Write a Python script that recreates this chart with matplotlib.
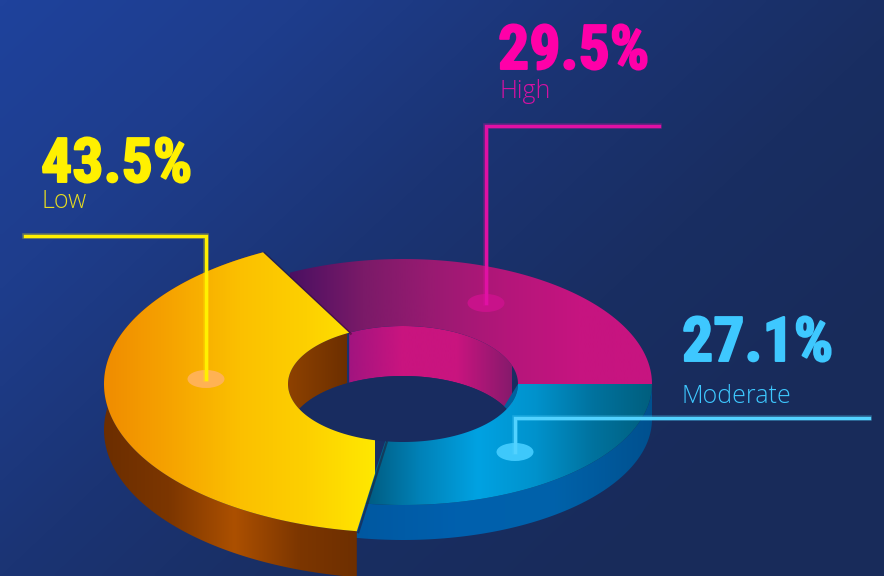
import numpy as np
import matplotlib
matplotlib.use('Agg')
import matplotlib.pyplot as plt
import matplotlib.patheffects as pe
from matplotlib.colors import LinearSegmentedColormap
from matplotlib.patches import Polygon, Ellipse

# data
labels = ['High', 'Low', 'Moderate']
values = [29.5, 43.5, 27.1]
value_labels = ['29.5%', '43.5%', '27.1%']

W, H = 884, 576

# ring geometry, pixels
cx, cy = 403, 384
rx_out, ry_out = 249, 125
ry_mod = 121                  # front of the ring sits slightly flatter
rx_low, ry_low = 299, 149     # the Low slice sticks out further
rx_in, ry_in = 115, 58
depth = 35
depth_low = 46
depth_in = 50


def view(th):
    # foreshortening of the tilted view, degrees in and out
    t = np.radians(th)
    return th + 4.4 + 6.45*np.sin(t) - 4.4*np.cos(t)


def arc(a0, a1, rx, ry, dy=0, n=120):
    t = np.radians(view(np.linspace(a0, a1, n)))
    return np.column_stack([cx + rx*np.cos(t), cy + dy - ry*np.sin(t)])


def grad(ax, patch, stops, x0, x1):
    # horizontal gradient clipped to a patch
    cmap = LinearSegmentedColormap.from_list('g', stops)
    ax.add_patch(patch)
    im = ax.imshow(np.linspace(0, 1, 256)[None, :], cmap=cmap, aspect='auto',
                   extent=(x0, x1, H, 0), interpolation='bilinear', zorder=patch.get_zorder())
    im.set_clip_path(patch)
    return im


def poly(pts, z):
    return Polygon(pts, closed=True, fc='none', ec='none', zorder=z)


def ring(a0, a1, rx, ry):
    return np.vstack([arc(a0, a1, rx, ry), arc(a1, a0, rx_in, ry_in)])


def side(a0, a1, rx, ry, d):
    return np.vstack([arc(a0, a1, rx, ry), arc(a1, a0, rx, ry, dy=d)])


# slice edges, counter-clockwise from the High/Moderate boundary
share = np.array(values)/np.sum(values)*360
e_high = share[0]
e_low = share[0] + share[1]

fig = plt.figure(figsize=(W/100, H/100), dpi=100)
ax = fig.add_axes([0, 0, 1, 1])

# background
yy, xx = np.mgrid[0:1:144j, 0:1:221j]
t = np.clip(xx*0.72 + yy*0.5, 0, 1)
bg = LinearSegmentedColormap.from_list('bg', ['#1f429c', '#1e3d8c', '#1b3474', '#192e62', '#182b5a'])
ax.imshow(t, cmap=bg, vmin=0, vmax=1, aspect='auto', extent=(0, W, H, 0),
          interpolation='bilinear', zorder=0)

# inner walls
grad(ax, poly(side(0, e_high, rx_in, ry_in, depth_in), 1),
     ['#a01480', '#c9147f', '#c9147f', '#861a6c'], 347, 512)
grad(ax, poly(side(e_high, 200, rx_in, ry_in, depth_in), 1),
     ['#8f4200', '#6c2f00'], 287, 347)
ax.add_patch(Polygon(arc(-32, 0, rx_in, ry_in, n=30), closed=True, fc='#00619f', ec='none', zorder=1.5))

# see-through part of the hole
xs = np.linspace(cx - rx_in, cx + rx_in, 300)
half = ry_in*np.sqrt(np.clip(1 - ((xs - cx)/rx_in)**2, 0, 1))
hole_top = np.maximum(cy - half, cy + depth_in - half)
hole_bot = np.minimum(cy + half, cy + depth_in + half)
keep = hole_top <= hole_bot
hole = np.vstack([np.column_stack([xs[keep], hole_top[keep]]),
                  np.column_stack([xs[keep][::-1], hole_bot[keep][::-1]])])
ax.add_patch(Polygon(hole, closed=True, fc='#182c60', ec='none', zorder=2))

# outer walls, Moderate runs a little under the Low slice
grad(ax, poly(side(e_low - 4, 360, rx_out, ry_mod, depth), 3),
     ['#0058a0', '#0060ae', '#0062aa', '#00508e'], 355, 655)
grad(ax, poly(side(e_high, e_low, rx_low, ry_low, depth_low), 4),
     ['#6c2e00', '#7c3600', '#ac5000', '#7c3600', '#6c2e00'], 104, 365)

# top faces
grad(ax, poly(ring(0, e_high, rx_out, ry_out), 5),
     ['#4a1062', '#7a1a68', '#9a1a72', '#b4167a', '#c61480', '#c81480'], 290, 652)
grad(ax, poly(ring(e_low, 360, rx_out, ry_mod), 5),
     ['#00587c', '#0082b8', '#00a2e2', '#0092cc', '#00729e', '#005f7e'], 362, 652)

# shadow along the two cut edges of the Low slice
low_top = ring(e_high, e_low, rx_low, ry_low)
for a in (e_high, e_low):
    p_out = arc(a, a, rx_low, ry_low, n=1)[0]
    p_in = arc(a, a, rx_in, ry_in, n=1)[0]
    ax.plot([p_out[0] + 1.5, p_in[0] + 1.5], [p_out[1] + 1, p_in[1] + 1],
            color='#2a0a20', lw=1.6, alpha=0.45, zorder=5.5)
grad(ax, poly(low_top, 6),
     ['#f08c00', '#f6a400', '#fbc000', '#fdd000', '#ffe800'], 104, 375)

# callout leaders
leaders = [([659, 486, 486], [126, 126, 303], '#e010a4', '#c8128a'),
           ([25, 206, 206], [236, 236, 379], '#fff000', '#ffb254'),
           ([869, 515, 515], [418, 418, 452], '#52d2ff', '#3ec8fb')]
for lx, ly, col, dot in leaders:
    ax.add_patch(Ellipse((lx[-1], ly[-1]), 37, 18, fc=dot, ec='none', zorder=7))
    ax.plot(lx, ly, color=col, lw=4, alpha=0.3, zorder=8, solid_joinstyle='miter')
    ax.plot(lx, ly, color=col, lw=2.4, zorder=8, solid_joinstyle='miter')

# value and level text
texts = [(498, 69, 500, 98, '#ff00a8', '#d411a2'),
         (41, 182, 41, 208, '#fff000', '#e6dc20'),
         (682, 361, 682, 403, '#3ec8ff', '#3ec8ff')]
for i, (tx, ty, sx, sy, c1, c2) in enumerate(texts):
    ax.text(tx, ty, value_labels[i], color=c1, family='Roboto Condensed', weight='bold',
            fontsize=44.5, ha='left', va='baseline', zorder=9,
            path_effects=[pe.withStroke(linewidth=1.4, foreground=c1)])
    ax.text(sx, sy, labels[i], color=c2, family='Open Sans', weight='light', fontsize=18,
            ha='left', va='baseline', zorder=9)

ax.set_xlim(0, W)
ax.set_ylim(H, 0)
ax.axis('off')
fig.savefig('out.png', dpi=100)
